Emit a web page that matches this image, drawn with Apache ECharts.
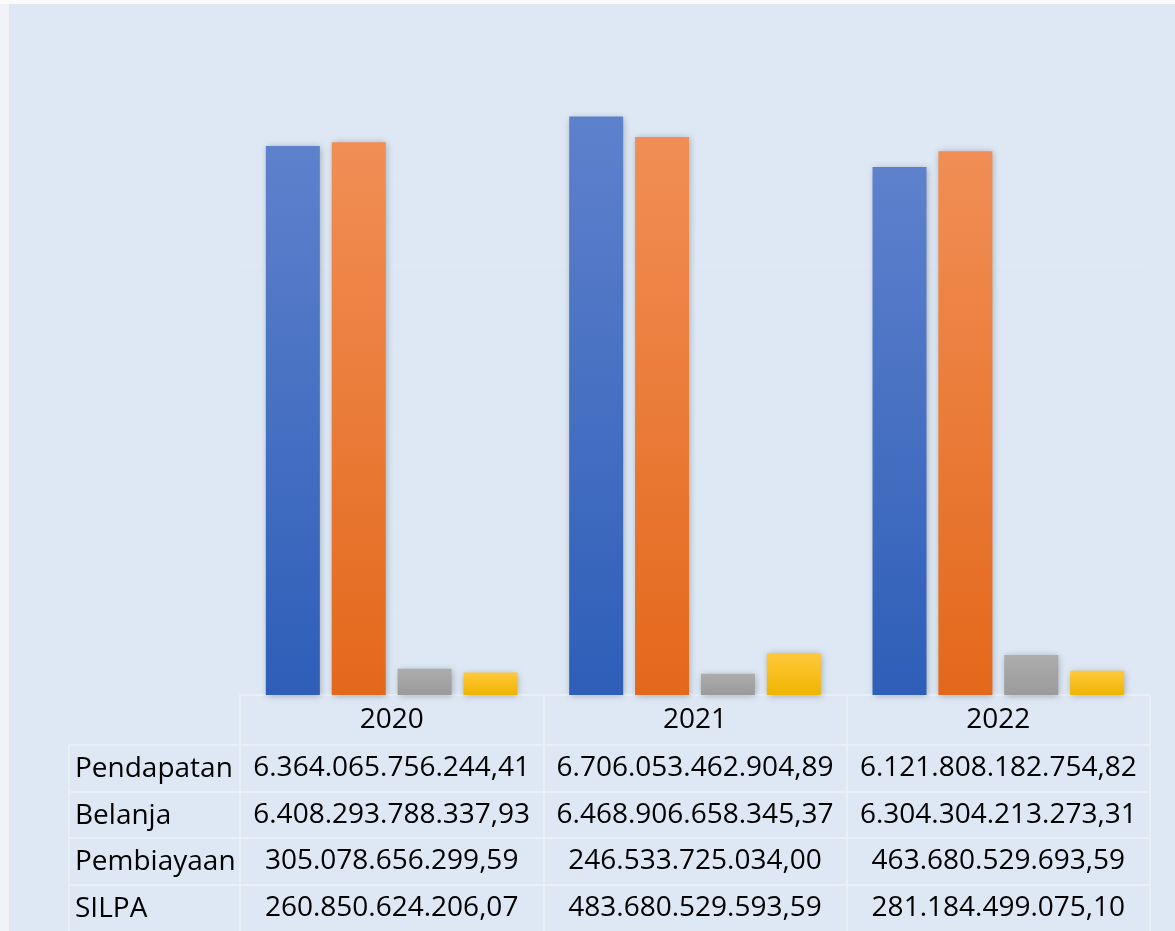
<!DOCTYPE html>
<html>
<head>
<meta charset="utf-8">
<script src="https://cdn.jsdelivr.net/npm/echarts@6/dist/echarts.min.js"></script>
<style>
html,body{margin:0;padding:0;background:#f1f3f6;}
#chart{width:1175px;height:931px;}
</style>
</head>
<body>
<div id="chart"></div>
<script>
// ---- data ----
const years = ['2020', '2021', '2022'];
const rowNames = ['Pendapatan', 'Belanja', 'Pembiayaan', 'SILPA'];
const pendapatan = [6364065756244.41, 6706053462904.89, 6121808182754.82];
const belanja    = [6408293788337.93, 6468906658345.37, 6304304213273.31];
const pembiayaan = [305078656299.59, 246533725034.00, 463680529693.59];
const silpa      = [260850624206.07, 483680529593.59, 281184499075.10];

const seriesData = [pendapatan, belanja, pembiayaan, silpa];

function fmt(v) {
  const parts = v.toFixed(2).split('.');
  return parts[0].replace(/\B(?=(\d{3})+(?!\d))/g, '.') + ',' + parts[1];
}

const FONT = '"Open Sans", "Noto Sans", sans-serif';
const LINE = '#e9eff7';
const gradients = [
  ['#5e81cc', '#2e5eb8'],
  ['#f18e55', '#e3681b'],
  ['#adadad', '#9a9a9a'],
  ['#ffc83c', '#efb500']
];

function grad(c) {
  return { type: 'linear', x: 0, y: 0, x2: 0, y2: 1,
    colorStops: [{ offset: 0, color: c[0] }, { offset: 1, color: c[1] }] };
}

// table geometry (layout only)
const rowCenters = [768, 815, 861, 908];
const rowLines = [745, 792, 838, 885];
const axisY = 695;

const xAxes = [{
  type: 'category', data: years, gridIndex: 0, position: 'bottom',
  axisLine: { show: true, lineStyle: { color: LINE, width: 2 } },
  axisTick: { show: true, length: 236, lineStyle: { color: LINE, width: 2 } },
  axisLabel: { interval: 0, hideOverlap: false, margin: 11, fontSize: 28, color: '#000', fontFamily: FONT, verticalAlign: 'top' }
}];
seriesData.forEach((arr, r) => {
  xAxes.push({
    type: 'category', data: years, gridIndex: 0, position: 'bottom',
    offset: rowCenters[r] - 14 - axisY,
    axisLine: { show: false }, axisTick: { show: false },
    axisLabel: { interval: 0, hideOverlap: false, margin: 0, fontSize: 28, color: '#000', fontFamily: FONT, verticalAlign: 'top',
      formatter: (val, idx) => fmt(arr[idx]) }
  });
});

const graphics = [
  { type: 'rect', left: 0, top: 0, shape: { width: 9, height: 931 }, style: { fill: '#f1f3f6' }, silent: true },
  { type: 'rect', left: 0, top: 0, shape: { width: 1175, height: 4 }, style: { fill: '#fbfbfc' }, silent: true },
  { type: 'line', shape: { x1: 69, y1: 745, x2: 69, y2: 931 }, style: { stroke: LINE, lineWidth: 2 }, silent: true }
];
rowLines.forEach(y => {
  graphics.push({ type: 'line', shape: { x1: 69, y1: y, x2: 1150, y2: y }, style: { stroke: LINE, lineWidth: 2 }, silent: true });
});
rowNames.forEach((name, r) => {
  graphics.push({ type: 'text', left: 75, top: rowCenters[r] - 13,
    style: { text: name, fontSize: 28, fontFamily: FONT, fill: '#000' }, silent: true });
});

const chart = echarts.init(document.getElementById('chart'));
chart.setOption({
  backgroundColor: '#dde8f4',
  animation: false,
  grid: { left: 240, right: 25, top: 5, bottom: 236, containLabel: false },
  xAxis: xAxes,
  yAxis: {
    type: 'value', min: 0, max: 8e12, interval: 1e12,
    axisLine: { show: false }, axisTick: { show: false }, axisLabel: { show: false },
    splitLine: { show: true, lineStyle: { color: '#e0e9f5', width: 1 } }
  },
  series: seriesData.map((arr, i) => ({
    name: rowNames[i], type: 'bar', data: arr, barWidth: 54, barGap: '22%',
    itemStyle: { color: grad(gradients[i]), shadowBlur: 7, shadowColor: 'rgba(0,0,0,0.28)', shadowOffsetX: 1, shadowOffsetY: 1 }
  })),
  graphic: graphics
});
</script>
</body>
</html>
